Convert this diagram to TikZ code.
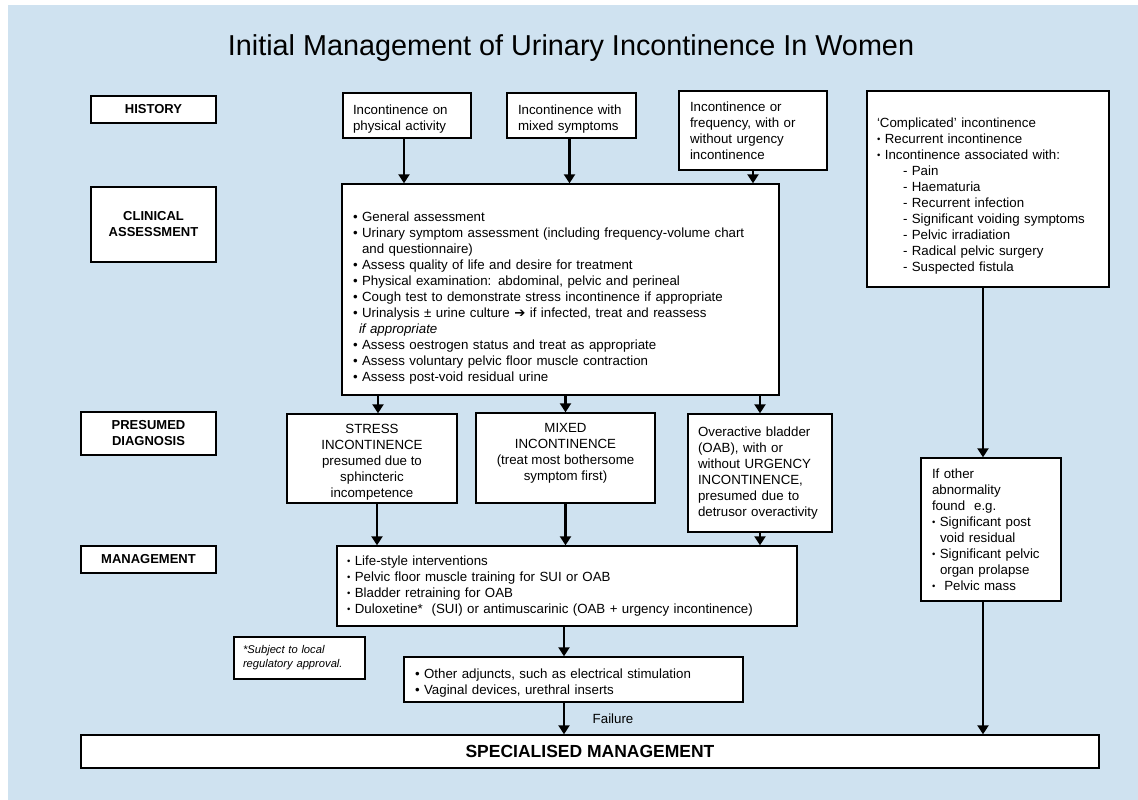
\documentclass[tikz,border=0pt]{standalone}
\usepackage{fontspec}
\setmainfont{Liberation Sans}
\newfontfamily\symfont{DejaVu Sans}
\usetikzlibrary{positioning, arrows.meta}
\definecolor{bgblue}{RGB}{207,226,240}
\newcommand{\cbul}{\textbullet\ }
\newcommand{\sbul}{\raisebox{0.8pt}{\fontsize{9.5}{9.5}\selectfont\textbullet}\hspace{4.5pt}}
\newcommand{\padtop}[1]{\rule{0pt}{#1}}
\newcommand{\padbot}[1]{\rule[-#1]{0pt}{#1}}

\begin{document}
\begin{tikzpicture}[x=1pt, y=-1pt,
    box/.style={rectangle, draw, fill=white, line width=1.4pt, inner sep=0pt, font=\fontsize{13.3}{16}\selectfont},
    txt/.style={box, align=left},
    stage/.style={box, align=center, font=\fontsize{13}{16}\selectfont\bfseries},
    arr/.style={line width=2.8pt, -{Triangle[length=9pt, width=11pt]}}]
    % Background
    \useasboundingbox (0,0) rectangle (1138,800);
    \fill[bgblue] (8,5) rectangle (1138,800);

    \node (title) at (571,48) {\fontsize{28.8}{32}\selectfont Initial Management of Urinary Incontinence In Women};

    % Stage labels
    \node (history) [stage, minimum width=125pt, minimum height=27pt] at (153.5,109.5) {HISTORY};
    \node (clinical) [stage, minimum width=125pt, minimum height=75pt] at (153.5,224.5) {CLINICAL\\ASSESSMENT};
    \node (presumed) [stage, minimum width=135pt, minimum height=43pt] at (148.5,433.5) {PRESUMED\\DIAGNOSIS};
    \node (management) [stage, minimum width=135pt, minimum height=27pt] at (148.5,559.5) {MANAGEMENT};

    % History
    \node (hist1) [txt, minimum width=128pt, minimum height=45pt, text width=108pt] at (407,115.5) {\padtop{16pt}Incontinence on\\physical activity};
    \node (hist2) [txt, minimum width=129pt, minimum height=45pt, text width=107pt] at (571.5,115.5) {\padtop{16pt}Incontinence with\\mixed symptoms};
    \node (hist3) [txt, minimum width=148pt, minimum height=79pt, text width=126pt] at (753,130.5) {Incontinence or\\frequency, with or\\without urgency\\incontinence};
    \node (compl) [txt, minimum width=242pt, minimum height=196pt, text width=222pt] at (988,189) {\padtop{24pt}`Complicated' incontinence\\
        \sbul Recurrent incontinence\\
        \sbul Incontinence associated with:\\
        \hspace*{26pt}- Pain\\
        \hspace*{26pt}- Haematuria\\
        \hspace*{26pt}- Recurrent infection\\
        \hspace*{26pt}- Significant voiding symptoms\\
        \hspace*{26pt}- Pelvic irradiation\\
        \hspace*{26pt}- Radical pelvic surgery\\
        \hspace*{26pt}- Suspected fistula};

    % Clinical assessment
    \node (clin) [txt, minimum width=437pt, minimum height=211pt, text width=415pt] at (560.5,289.5) {\padtop{26pt}\cbul General assessment\\
        \cbul Urinary symptom assessment (including frequency-volume chart\\
        \hspace*{9pt}and questionnaire)\\
        \cbul Assess quality of life and desire for treatment\\
        \cbul Physical examination: abdominal, pelvic and perineal\\
        \cbul Cough test to demonstrate stress incontinence if appropriate\\
        \cbul Urinalysis ± urine culture {\symfont ➔} if infected, treat and reassess\\
        \hspace*{6pt}\textit{if appropriate}\\
        \cbul Assess oestrogen status and treat as appropriate\\
        \cbul Assess voluntary pelvic floor muscle contraction\\
        \cbul Assess post-void residual urine};

    % Presumed diagnosis
    \node (stress) [box, align=center, minimum width=170pt, minimum height=89pt] at (372,458.5) {\padtop{17.5pt}STRESS\\INCONTINENCE\\presumed due to\\sphincteric\\incompetence};
    \node (mixed) [box, align=center, minimum width=179pt, minimum height=90pt] at (565.5,458) {MIXED\\INCONTINENCE\\(treat most bothersome\\symptom first)\padbot{13pt}};
    \node (oab) [txt, minimum width=144pt, minimum height=118pt, text width=124pt] at (760,473) {Overactive bladder\\(OAB), with or\\without URGENCY\\INCONTINENCE,\\presumed due to\\detrusor overactivity};
    \node (other) [txt, minimum width=140pt, minimum height=143pt, text width=118pt] at (991,529.5) {If other\\abnormality\\found\ \ e.g.\\
        \sbul Significant post\\
        \hspace*{8pt}void residual\\
        \sbul Significant pelvic\\
        \hspace*{8pt}organ prolapse\\
        \sbul\ Pelvic mass};

    % Management
    \node (mgmt) [txt, minimum width=460pt, minimum height=80pt, text width=440pt] at (567,586) {\sbul Life-style interventions\\
        \sbul Pelvic floor muscle training for SUI or OAB\\
        \sbul Bladder retraining for OAB\\
        \sbul Duloxetine*\ \ (SUI) or antimuscarinic (OAB + urgency incontinence)};
    \node (note) [txt, minimum width=131pt, minimum height=42pt, text width=113pt, font=\fontsize{11.2}{14}\selectfont\itshape] at (299.5,658) {*Subject to local\\regulatory approval.};
    \node (adj) [txt, minimum width=339pt, minimum height=45pt, text width=317pt] at (573.5,679.5) {\padtop{16pt}\cbul Other adjuncts, such as electrical stimulation\\
        \cbul Vaginal devices, urethral inserts};
    \node (spec) [box, minimum width=1018pt, minimum height=33pt, font=\fontsize{17.5}{20}\selectfont\bfseries] at (590,751.5) {SPECIALISED MANAGEMENT};

    % Arrows
    \draw[arr] ([xshift=-3pt]hist1.south) -- ([xshift=-3pt]hist1.south |- clin.north);
    \draw[arr] ([xshift=-2pt]hist2.south) -- ([xshift=-2pt]hist2.south |- clin.north);
    \draw[arr] (hist3.south) -- (hist3.south |- clin.north);
    \draw[arr] ([xshift=6pt]stress.north |- clin.south) -- ([xshift=6pt]stress.north);
    \draw[arr] (mixed.north |- clin.south) -- (mixed.north);
    \draw[arr] (oab.north |- clin.south) -- (oab.north);
    \draw[arr] ([xshift=5pt]stress.south) -- ([xshift=5pt]stress.south |- mgmt.north);
    \draw[arr] (mixed.south) -- (mixed.south |- mgmt.north);
    \draw[arr] (oab.south) -- (oab.south |- mgmt.north);
    \draw[arr] ([xshift=-3pt]mgmt.south) -- ([xshift=-3pt]mgmt.south |- adj.north);
    \draw[arr] ([xshift=-9.5pt]adj.south) -- ([xshift=-9.5pt]adj.south |- spec.north) node (fail) [midway, right=24pt, font=\fontsize{13.3}{16}\selectfont] {Failure};
    \draw[arr] ([xshift=-5pt]compl.south) -- ([xshift=-5pt]compl.south |- other.north);
    \draw[arr] ([xshift=-8pt]other.south) -- ([xshift=-8pt]other.south |- spec.north);
\end{tikzpicture}
\end{document}
